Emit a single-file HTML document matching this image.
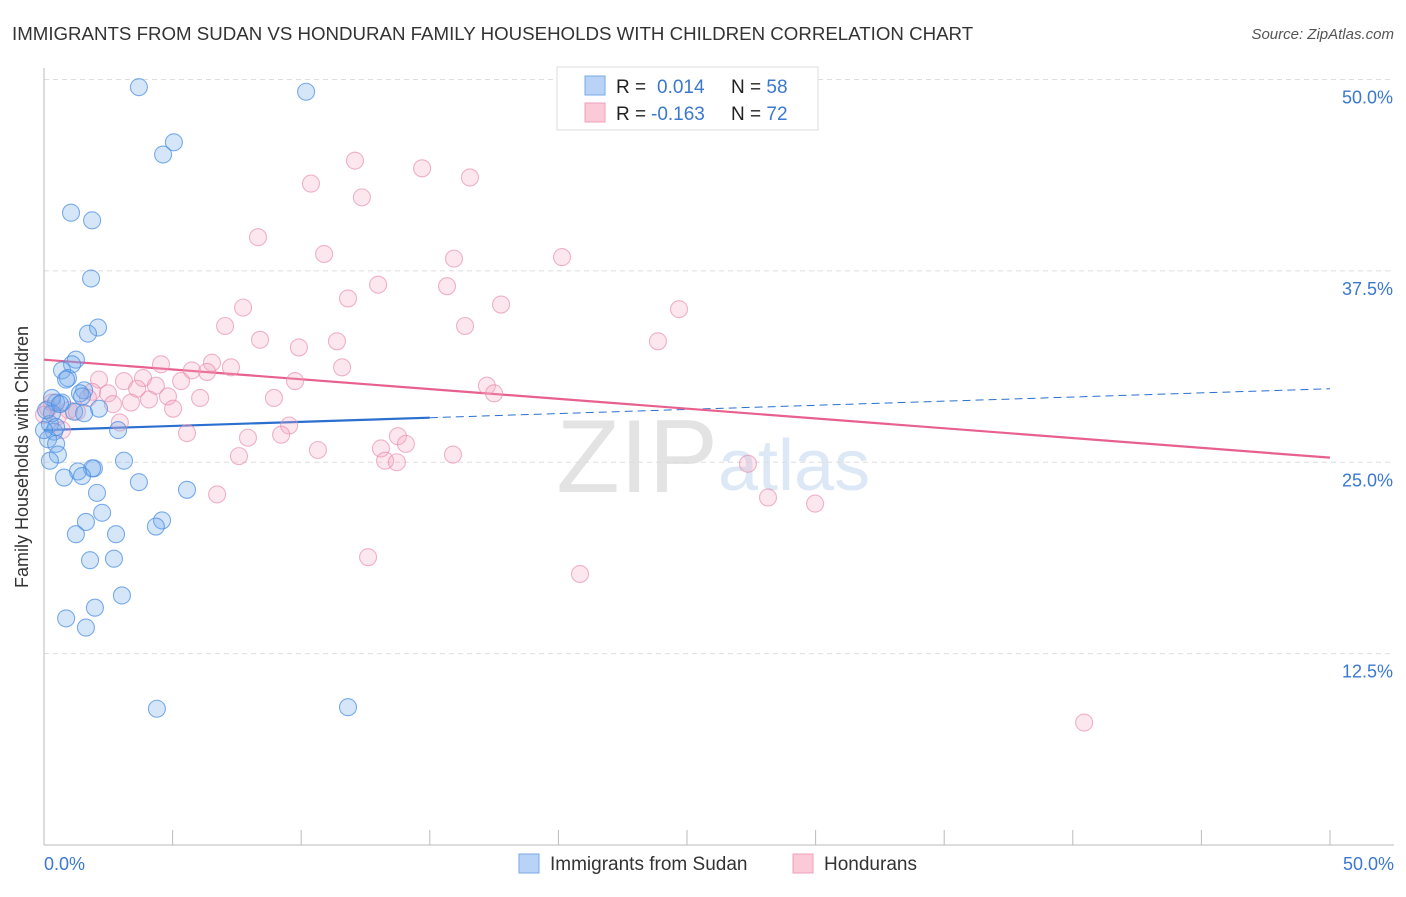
<!DOCTYPE html>
<html><head><meta charset="utf-8"><style>
body{margin:0;background:#fff;font-family:"Liberation Sans",sans-serif}
svg text{font-family:"Liberation Sans",sans-serif}
</style></head><body>
<svg id="chart" width="1406" height="892">
<text x="12" y="40" font-size="18.7" fill="#333">IMMIGRANTS FROM SUDAN VS HONDURAN FAMILY HOUSEHOLDS WITH CHILDREN CORRELATION CHART</text>
<text x="1394" y="39" font-size="15" fill="#555" font-style="italic" text-anchor="end">Source: ZipAtlas.com</text>
<text x="718" y="492" font-size="104" fill="#e3e3e3" text-anchor="end" font-family="Liberation Serif">ZIP</text>
<text x="718" y="490" font-size="72" fill="#dde8f6">atlas</text>
<g id="grid"></g><g id="axes"></g><g id="trends"></g><g id="points"></g>
<g>
<rect x="557" y="67" width="261" height="63" fill="#fff" stroke="#ddd"/>
<rect x="585" y="76" width="20" height="19" fill="#b8d3f5" stroke="#7aa9e8"/>
<rect x="585" y="103" width="20" height="19" fill="#fbc9d8" stroke="#f0a0b8"/>
<text x="616" y="93" font-size="19" fill="#222">R = <tspan x="657" fill="#3b78d0">0.014</tspan><tspan x="731">N = </tspan><tspan fill="#3b78d0">58</tspan></text>
<text x="616" y="120" font-size="19" fill="#222">R = <tspan x="651" fill="#3b78d0">-0.163</tspan><tspan x="731">N = </tspan><tspan fill="#3b78d0">72</tspan></text>
</g>
<g>
<rect x="519" y="854" width="20" height="19" fill="#b8d3f5" stroke="#7aa9e8"/>
<text x="550" y="870" font-size="19" fill="#333">Immigrants from Sudan</text>
<rect x="793" y="854" width="20" height="19" fill="#fbc9d8" stroke="#f0a0b8"/>
<text x="824" y="870" font-size="19" fill="#333">Hondurans</text>
</g>
<text x="28" y="457" font-size="18" fill="#333" text-anchor="middle" transform="rotate(-90 28 457)">Family Households with Children</text>
</svg>
<script>
const yTicks=[12.5,25,37.5,50];
const yTickLabels=["12.5%","25.0%","37.5%","50.0%"];
const xTickLabels=["0.0%","50.0%"];
const sudanX=[3.69,10.19,5.05,4.63,1.05,1.87,1.83,2.10,1.71,1.24,1.09,0.70,0.93,0.86,1.56,1.40,0.70,0.47,0.31,2.14,1.17,1.56,2.88,0.23,0.39,0.16,0.47,0.54,3.11,1.94,1.87,1.32,1.48,0.78,3.69,5.56,2.06,2.26,1.63,4.59,4.35,1.24,2.80,2.72,1.79,3.03,1.98,0.86,1.63,4.39,11.82,0.23,0.31,0.08,0.62,0.47,0.0,1.48];
const sudanY=[49.5,49.2,45.9,45.1,41.3,40.8,37.0,33.8,33.4,31.7,31.4,31.0,30.5,30.4,29.7,29.5,28.9,28.9,29.2,28.5,28.3,28.2,27.1,27.5,27.0,26.5,26.2,25.5,25.1,24.6,24.6,24.4,24.1,24.0,23.7,23.2,23.0,21.7,21.1,21.2,20.8,20.3,20.3,18.7,18.6,16.3,15.5,14.8,14.2,8.9,9.0,25.1,28.2,28.4,28.8,27.3,27.1,29.3];
const hondX=[12.09,14.70,16.56,10.38,12.36,8.32,10.89,15.94,20.14,12.99,15.67,11.82,17.77,7.74,24.69,16.37,7.04,8.40,11.39,23.87,9.91,4.55,6.53,7.27,11.59,5.75,6.34,3.85,3.11,5.33,2.14,9.76,4.35,17.22,3.62,1.87,2.49,17.50,4.82,6.07,8.94,1.71,4.08,3.38,2.68,5.02,0.31,0.97,0.54,2.95,9.53,5.56,7.93,13.76,9.22,13.10,14.07,10.65,7.58,13.26,13.72,15.90,27.37,6.73,28.15,29.98,12.60,20.84,40.44,0.16,0.70,1.28,0.0];
const hondY=[44.7,44.2,43.6,43.2,42.3,39.7,38.6,38.3,38.4,36.6,36.5,35.7,35.3,35.1,35.0,33.9,33.9,33.0,32.9,32.9,32.5,31.4,31.5,31.2,31.2,31.0,30.9,30.5,30.3,30.3,30.4,30.3,30.0,30.0,29.8,29.6,29.5,29.5,29.3,29.2,29.2,29.2,29.1,28.9,28.8,28.5,28.9,28.4,28.0,27.6,27.4,26.9,26.6,26.7,26.8,25.9,26.2,25.8,25.4,25.1,25.0,25.5,24.9,22.9,22.7,22.3,18.8,17.7,8.0,28.5,27.1,28.3,28.1];
const sudanTrend=[27.1,29.8];
const hondTrend=[31.7,25.3];
const NS="http://www.w3.org/2000/svg";
const X=v=>44+v/50*1286, Y=v=>845-v/50*765.5;
function mk(tag,attrs,parent){const e=document.createElementNS(NS,tag);for(const k in attrs)e.setAttribute(k,attrs[k]);parent.appendChild(e);return e;}
const grid=document.getElementById('grid'),axes=document.getElementById('axes'),tr=document.getElementById('trends'),pts=document.getElementById('points');
yTicks.forEach((t,i)=>{
 const l=mk('line',{x1:44,x2:1394,y1:Y(t),y2:Y(t),stroke:'#ddd','stroke-dasharray':'5,4'},grid);
 
 
 const tx=mk('text',{x:1393,y:Y(t)+24,'font-size':18,fill:'#3b78d0','text-anchor':'end'},grid);
 tx.textContent=yTickLabels[i];
 
 
});
const ax=mk('line',{x1:44,x2:1394,y1:845,y2:845,stroke:'#bbb'},axes);


const ay=mk('line',{x1:44,x2:44,y1:68,y2:845,stroke:'#bbb'},axes);


for(let i=0;i<=10;i++){const t=mk('line',{x1:X(i*5),x2:X(i*5),y1:830,y2:845,stroke:'#bbb'},axes);
 
 }
[[0,'start',44],[50,'end',1394]].forEach((d,i)=>{const t=mk('text',{x:d[2],y:870,'font-size':18,fill:'#3b78d0','text-anchor':d[1]},axes);t.textContent=xTickLabels[i];
 
 });
function drawPts(xs,ys,fill,stroke,name){xs.forEach((x,i)=>{const c=mk('circle',{cx:X(x),cy:Y(ys[i]),r:8.5,fill:fill,stroke:stroke,'stroke-width':1.1},pts);
 
 });}
drawPts(hondX,hondY,'rgba(245,170,195,0.28)','rgba(232,140,172,0.65)','honduran-point');
drawPts(sudanX,sudanY,'rgba(120,172,235,0.3)','rgba(70,140,225,0.7)','sudan-point');
const sy=x=>sudanTrend[0]+(sudanTrend[1]-sudanTrend[0])*x/50;
const s1=mk('line',{x1:X(0),y1:Y(sy(0)),x2:X(15),y2:Y(sy(15)),stroke:'#2b6fd0','stroke-width':2.2},tr);


const s2=mk('line',{x1:X(15),y1:Y(sy(15)),x2:X(50),y2:Y(sy(50)),stroke:'#2b6fd0','stroke-width':1,'stroke-dasharray':'8,5'},tr);


const h1=mk('line',{x1:X(0),y1:Y(hondTrend[0]),x2:X(50),y2:Y(hondTrend[1]),stroke:'#e8608e','stroke-width':2.2},tr);


</script>
</body></html>
